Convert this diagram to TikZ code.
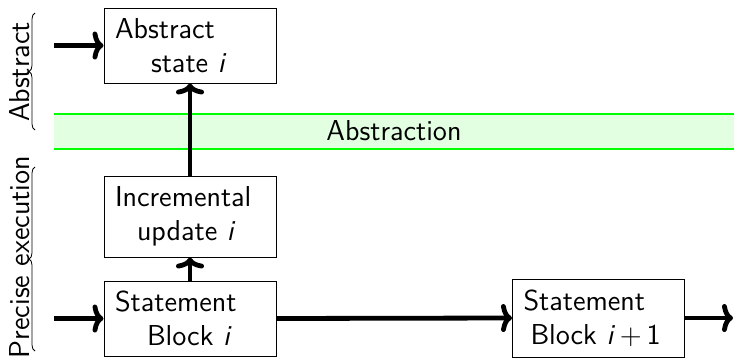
\documentclass[tikz,border=0pt]{standalone}
\usetikzlibrary{decorations.pathreplacing,arrows.meta}
\definecolor{bandfill}{RGB}{226,255,226}
\definecolor{bandline}{RGB}{0,255,0}
\begin{document}
\begin{tikzpicture}[x=0.5pt,y=-0.5pt,
  every node/.style={font=\sffamily\fontsize{14.4}{17}\selectfont},
  stepbox/.style={draw,line width=0.5pt,inner xsep=5.5pt,inner ysep=2pt,
    text width=75pt,align=left,minimum width=86pt},
  flow/.style={-{To[length=5.5pt,width=14pt]},line width=2.4pt},
  sidebrace/.style={decorate,decoration={brace,amplitude=3pt},line width=0.4pt}]
\useasboundingbox (0,0) rectangle (734,359);

% abstraction band
\node[fill=bandfill,minimum width=340pt,minimum height=17pt,inner sep=0pt]
  (band) at (394,131.5) {};
\draw[bandline,line width=1pt] (band.north west) -- (band.north east);
\draw[bandline,line width=1pt] (band.south west) -- (band.south east);
\node (bandlabel) at (394,131) {Abstraction};

% blocks
\node[stepbox,minimum height=37.5pt] (as) at (190,45.5)
  {Abstract\\\hspace*{18pt}state \textit{i}};
\node[stepbox,minimum height=40.5pt] (iu) at (190,216.5)
  {Incremental\\\hspace*{11pt}update \textit{i}};
\node[stepbox,minimum height=37.5pt] (sb) at (190,318.5)
  {Statement\\\hspace*{16pt}Block \textit{i}};
\node[stepbox,minimum height=39pt,minimum width=85.5pt] (sbn) at (598.5,318)
  {Statement\\\hspace*{3.5pt}Block \textit{i}\,+\,1};

% connectors
\coordinate (inas) at (54,45.5);
\coordinate (insb) at (54,318.5);
\coordinate (outsb) at (733,318);
\draw[flow] (inas) -- (as.west);
\draw[flow] (insb) -- (sb.west);
\draw[flow] (sb.east) -- (sbn.west);
\draw[flow] (sbn.east) -- (outsb);
\draw[flow] (iu.north) -- (as.south);
\draw[flow] (sb.north) -- (iu.south);

% level braces
\coordinate (absbot) at (35,130);
\coordinate (abstop) at (35,13);
\coordinate (prebot) at (35,351);
\coordinate (pretop) at (35,167);
\draw[sidebrace] (absbot) -- (abstop);
\draw[sidebrace] (prebot) -- (pretop);
\node[rotate=90] (abslabel) at (20,72) {Abstract};
\node[rotate=90] (prelabel) at (20,257) {Precise execution};
\end{tikzpicture}
\end{document}
